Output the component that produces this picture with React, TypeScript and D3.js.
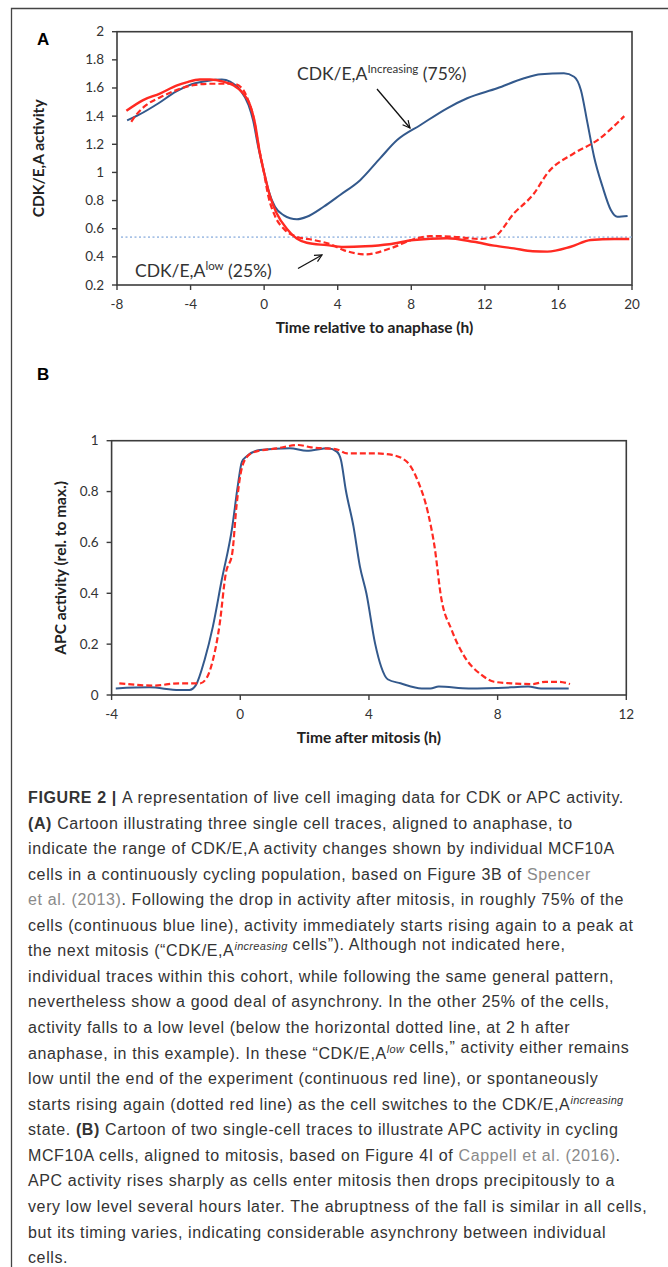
import React from 'react';
import * as d3 from 'd3';

// ---- Panel A: CDK/E,A activity vs time relative to anaphase ----
const aXTicks = [-8, -4, 0, 4, 8, 12, 16, 20];
const aYTicks = [0.2, 0.4, 0.6, 0.8, 1, 1.2, 1.4, 1.6, 1.8, 2];
const aThreshold = 0.54;

const blueAX = [-7.45, -6.8, -5.7, -4.8, -3.9, -3.1, -2.3, -1.85, -1.3, -0.85, -0.6, -0.32, -0.04, 0.23, 0.59, 1.05, 1.78, 2.32, 3.23, 4.13, 5.22, 6.3, 7.23, 8.5, 9.95, 11.04, 12.67, 14.13, 15.04, 16.3, 16.85, 17.22, 17.58, 17.94, 18.4, 18.85, 19.2, 19.76];
const blueAY = [1.37, 1.41, 1.495, 1.574, 1.628, 1.65, 1.66, 1.645, 1.585, 1.48, 1.37, 1.18, 1.02, 0.875, 0.756, 0.697, 0.667, 0.685, 0.756, 0.84, 0.945, 1.1, 1.23, 1.337, 1.456, 1.527, 1.598, 1.669, 1.697, 1.704, 1.68, 1.586, 1.35, 1.11, 0.898, 0.733, 0.685, 0.69];

const redAX = [-7.49, -6.58, -5.67, -4.77, -4.22, -3.5, -2.95, -2.22, -1.68, -1.13, -0.77, -0.5, -0.23, 0.05, 0.32, 0.68, 1.23, 1.77, 2.32, 3.41, 4.32, 5.5, 6.8, 8.13, 9.95, 11.4, 12.5, 13.58, 14.6, 15.4, 16.67, 17.76, 19.03, 19.85];
const redAY = [1.438, 1.514, 1.56, 1.616, 1.64, 1.66, 1.66, 1.645, 1.62, 1.56, 1.48, 1.35, 1.135, 0.97, 0.83, 0.71, 0.6, 0.53, 0.5, 0.483, 0.47, 0.475, 0.49, 0.52, 0.532, 0.507, 0.48, 0.46, 0.44, 0.437, 0.472, 0.52, 0.527, 0.527];

const redDashAX = [-7.22, -6.95, -6.4, -5.67, -4.77, -3.86, -2.95, -2.22, -1.68, -1.22, -0.86, -0.59, -0.32, -0.04, 0.23, 0.59, 1.14, 1.77, 2.68, 3.59, 4.32, 5.5, 6.86, 8.13, 9.04, 10.31, 11.77, 12.5, 13.58, 14.67, 15.4, 16.85, 18.13, 19.58];
const redDashAY = [1.36, 1.41, 1.48, 1.533, 1.585, 1.62, 1.63, 1.63, 1.63, 1.6, 1.51, 1.4, 1.2, 1.02, 0.83, 0.69, 0.59, 0.543, 0.52, 0.49, 0.448, 0.418, 0.46, 0.525, 0.548, 0.543, 0.527, 0.543, 0.709, 0.85, 0.994, 1.136, 1.23, 1.4];

// ---- Panel B: APC activity vs time after mitosis ----
const bXTicks = [-4, 0, 4, 8, 12];
const bYTicks = [0, 0.2, 0.4, 0.6, 0.8, 1];

const blueBX = [-3.87, -2.83, -1.9, -1.58, -1.38, -1.11, -0.85, -0.58, -0.25, -0.08, 0.05, 0.21, 0.61, 1.54, 2.07, 2.73, 3.0, 3.13, 3.28, 3.52, 3.72, 3.92, 4.19, 4.38, 4.58, 4.98, 5.64, 5.91, 6.17, 7.1, 8.42, 8.95, 9.35, 10.21];
const blueBY = [0.026, 0.03, 0.02, 0.02, 0.039, 0.138, 0.27, 0.45, 0.66, 0.82, 0.917, 0.94, 0.963, 0.97, 0.96, 0.97, 0.957, 0.924, 0.806, 0.662, 0.505, 0.4, 0.203, 0.111, 0.062, 0.046, 0.026, 0.026, 0.033, 0.026, 0.03, 0.033, 0.026, 0.026];

const redBX = [-3.76, -2.7, -1.9, -1.25, -1.05, -0.85, -0.65, -0.45, -0.25, -0.12, 0.01, 0.21, 0.48, 1.14, 1.8, 2.2, 2.99, 3.32, 4.19, 4.72, 5.18, 5.51, 5.84, 6.04, 6.24, 6.57, 6.97, 7.5, 7.89, 8.42, 9.09, 9.48, 9.88, 10.25];
const redBY = [0.046, 0.037, 0.046, 0.046, 0.066, 0.138, 0.27, 0.478, 0.557, 0.74, 0.87, 0.937, 0.957, 0.97, 0.983, 0.974, 0.966, 0.95, 0.95, 0.944, 0.917, 0.845, 0.714, 0.583, 0.387, 0.256, 0.151, 0.079, 0.052, 0.046, 0.043, 0.052, 0.052, 0.043];

// ---- Caption ----
type Seg = { t: string; b?: boolean; sup?: boolean; link?: boolean };
const captionLines: Seg[][] = [
  [{ t: 'FIGURE 2 | ', b: true }, { t: 'A representation of live cell imaging data for CDK or APC activity.' }],
  [{ t: '(A)', b: true }, { t: ' Cartoon illustrating three single cell traces, aligned to anaphase, to' }],
  [{ t: 'indicate the range of CDK/E,A activity changes shown by individual MCF10A' }],
  [{ t: 'cells in a continuously cycling population, based on Figure 3B of ' }, { t: 'Spencer', link: true }],
  [{ t: 'et al. (2013)', link: true }, { t: '. Following the drop in activity after mitosis, in roughly 75% of the' }],
  [{ t: 'cells (continuous blue line), activity immediately starts rising again to a peak at' }],
  [{ t: 'the next mitosis (“CDK/E,A' }, { t: 'increasing', sup: true }, { t: ' cells”). Although not indicated here,' }],
  [{ t: 'individual traces within this cohort, while following the same general pattern,' }],
  [{ t: 'nevertheless show a good deal of asynchrony. In the other 25% of the cells,' }],
  [{ t: 'activity falls to a low level (below the horizontal dotted line, at 2 h after' }],
  [{ t: 'anaphase, in this example). In these “CDK/E,A' }, { t: 'low', sup: true }, { t: ' cells,” activity either remains' }],
  [{ t: 'low until the end of the experiment (continuous red line), or spontaneously' }],
  [{ t: 'starts rising again (dotted red line) as the cell switches to the CDK/E,A' }, { t: 'increasing', sup: true }],
  [{ t: 'state. ' }, { t: '(B)', b: true }, { t: ' Cartoon of two single-cell traces to illustrate APC activity in cycling' }],
  [{ t: 'MCF10A cells, aligned to mitosis, based on Figure 4I of ' }, { t: 'Cappell et al. (2016)', link: true }, { t: '.' }],
  [{ t: 'APC activity rises sharply as cells enter mitosis then drops precipitously to a' }],
  [{ t: 'very low level several hours later. The abruptness of the fall is similar in all cells,' }],
  [{ t: 'but its timing varies, indicating considerable asynchrony between individual' }],
  [{ t: 'cells.' }],
];

const BLUE = '#33598c';
const RED = '#ff2a22';
const AXIS = '#3c3c3c';
const TICK_FONT = 'Lato, "Open Sans", sans-serif';

function pairs(xs: number[], ys: number[]): [number, number][] {
  return xs.map((x, i) => [x, ys[i]]);
}

function Axes({ x, y, xTicks, yTicks, xTitle, yTitle, yTitleX }: any) {
  const [x0, x1] = x.range();
  const [y0, y1] = y.range();
  return (
    <g>
      <rect x={x0} y={y1} width={x1 - x0} height={y0 - y1} fill="none" stroke={AXIS} strokeWidth={1.6} />
      {xTicks.map((t: number) => (
        <g key={'x' + t}>
          <line x1={x(t)} x2={x(t)} y1={y0} y2={y0 + 5} stroke={AXIS} strokeWidth={1.4} />
          <text x={x(t)} y={y0 + 24} textAnchor="middle" fontSize={13.5} fill="#333" fontFamily={TICK_FONT}>{t}</text>
        </g>
      ))}
      {yTicks.map((t: number) => (
        <g key={'y' + t}>
          <line x1={x0 - 5} x2={x0} y1={y(t)} y2={y(t)} stroke={AXIS} strokeWidth={1.4} />
          <text x={x0 - 13} y={y(t) + 4.5} textAnchor="end" fontSize={13.5} fill="#333" fontFamily={TICK_FONT}>{String(t)}</text>
        </g>
      ))}
      <text x={(x0 + x1) / 2} y={y0 + 48} textAnchor="middle" fontSize={15.5} fontWeight="bold" fill="#222" fontFamily={TICK_FONT}>{xTitle}</text>
      <text transform={`translate(${yTitleX},${(y0 + y1) / 2}) rotate(-90)`} textAnchor="middle" fontSize={15.5} fontWeight="bold" fill="#222" fontFamily={TICK_FONT}>{yTitle}</text>
    </g>
  );
}

export default function App() {
  // panel A scales
  const xA = d3.scaleLinear().domain([-8, 20]).range([117, 632]);
  const yA = d3.scaleLinear().domain([0.2, 2]).range([285, 31.7]);
  const lineA = d3.line<[number, number]>().x(d => xA(d[0])).y(d => yA(d[1])).curve(d3.curveMonotoneX);

  // panel B scales
  const xB = d3.scaleLinear().domain([-4, 12]).range([111.6, 626.3]);
  const yB = d3.scaleLinear().domain([0, 1]).range([695, 440.7]);
  const lineB = d3.line<[number, number]>().x(d => xB(d[0])).y(d => yB(d[1])).curve(d3.curveMonotoneX);

  const capX = 28;
  const capY0 = 803;
  const capDy = 25.56;

  return (
    <svg width={668} height={1267} style={{ position: 'absolute', left: 0, top: 0, background: '#fff' }}>
      <defs>
        <marker id="arr" viewBox="0 0 10 10" refX={9} refY={5} markerWidth={9} markerHeight={9} orient="auto" markerUnits="userSpaceOnUse">
          <path d="M1,1 L9,5 L1,9" fill="none" stroke="#111" strokeWidth={1.3} />
        </marker>
      </defs>
      {/* outer frame (right side cut off) */}
      <path d="M11.5,1267 L11.5,8.5 L668,8.5" fill="none" stroke="#444" strokeWidth={1.3} />

      {/* Panel A */}
      <text x={37} y={45} fontSize={17} fontWeight="bold" fontFamily="Liberation Sans, Arial, sans-serif">A</text>
      <Axes x={xA} y={yA} xTicks={aXTicks} yTicks={aYTicks} xTitle="Time relative to anaphase (h)" yTitle="CDK/E,A activity" yTitleX={44} />
      <line x1={xA(-8) + 4} x2={xA(20)} y1={yA(aThreshold)} y2={yA(aThreshold)} stroke="#a8c2e6" strokeWidth={1.6} strokeDasharray="2,2.5" />
      <path d={lineA(pairs(blueAX, blueAY)) || ''} fill="none" stroke={BLUE} strokeWidth={2} />
      <path d={lineA(pairs(redAX, redAY)) || ''} fill="none" stroke={RED} strokeWidth={2.4} />
      <path d={lineA(pairs(redDashAX, redDashAY)) || ''} fill="none" stroke={RED} strokeWidth={2.2} strokeDasharray="6,3" />

      <text x={297} y={80} fontSize={17.5} fill="#333" fontFamily={TICK_FONT}>
        CDK/E,A<tspan dy={-7} fontSize={11.5}>Increasing</tspan><tspan dy={7}> (75%)</tspan>
      </text>
      <line x1={377} y1={89} x2={410} y2={128} stroke="#111" strokeWidth={1.3} markerEnd="url(#arr)" />
      <text x={135} y={277} fontSize={17.5} fill="#333" fontFamily={TICK_FONT}>
        CDK/E,A<tspan dy={-7} fontSize={11.5}>low</tspan><tspan dy={7}> (25%)</tspan>
      </text>
      <line x1={298} y1={268.5} x2={322} y2={255} stroke="#111" strokeWidth={1.3} markerEnd="url(#arr)" />

      {/* Panel B */}
      <text x={37} y={380} fontSize={17} fontWeight="bold" fontFamily="Liberation Sans, Arial, sans-serif">B</text>
      <Axes x={xB} y={yB} xTicks={bXTicks} yTicks={bYTicks} xTitle="Time after mitosis (h)" yTitle="APC activity (rel. to max.)" yTitleX={66} />
      <path d={lineB(pairs(blueBX, blueBY)) || ''} fill="none" stroke={BLUE} strokeWidth={2} />
      <path d={lineB(pairs(redBX, redBY)) || ''} fill="none" stroke={RED} strokeWidth={2.2} strokeDasharray="6,3" />

      {/* Caption */}
      <g fontFamily='"Liberation Sans", Arial, sans-serif' fontSize={16} letterSpacing={0.62} fill="#333">
        {captionLines.map((segs, li) => (
          <text key={li} x={capX} y={capY0 + li * capDy}>
            {segs.map((s, si) => {
              if (s.sup) {
                return (
                  <React.Fragment key={si}>
                    <tspan dy={-6} fontSize={11} letterSpacing={0.3} fontStyle="italic">{s.t}</tspan>
                    <tspan dy={6}>{''}</tspan>
                  </React.Fragment>
                );
              }
              return (
                <tspan key={si} fontWeight={s.b ? 'bold' : 'normal'} fill={s.link ? '#8a8a8a' : undefined}>{s.t}</tspan>
              );
            })}
          </text>
        ))}
      </g>
    </svg>
  );
}
